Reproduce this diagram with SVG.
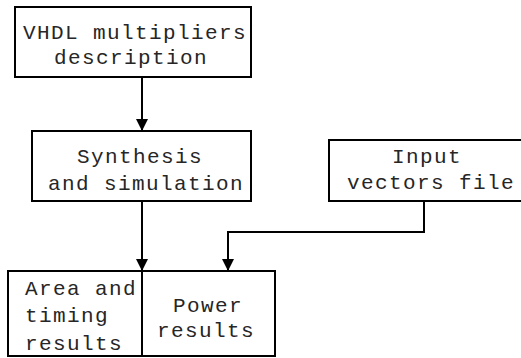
<svg xmlns="http://www.w3.org/2000/svg" width="521" height="358" viewBox="0 0 521 358">
  <style>
    .box { fill: #ffffff; stroke: #000000; stroke-width: 2; }
    .lbl { font-family: "Liberation Mono", "Courier New", monospace; font-size: 21px; letter-spacing: 1.4px; fill: #262626; }
    .wire { fill: none; stroke: #000000; stroke-width: 2; }
  </style>
  <defs>
    <marker id="arrow" markerUnits="userSpaceOnUse" markerWidth="12" markerHeight="12" refX="12" refY="6" orient="auto">
      <path d="M0,0 L12,6 L0,12 Z" fill="#000000"/>
    </marker>
  </defs>

  <g id="vhdl">
    <rect class="box" x="15" y="7" width="236" height="70"/>
    <text class="lbl" x="23" y="39">VHDL multipliers</text>
    <text class="lbl" x="54" y="64">description</text>
  </g>

  <g id="synthesis">
    <rect class="box" x="32" y="131" width="219" height="70"/>
    <text class="lbl" x="77" y="163">Synthesis</text>
    <text class="lbl" x="48" y="190">and simulation</text>
  </g>

  <g id="input">
    <rect class="box" x="329" y="140" width="200" height="61"/>
    <text class="lbl" x="392" y="163">Input</text>
    <text class="lbl" x="347" y="189">vectors file</text>
  </g>

  <g id="area-timing">
    <rect class="box" x="8" y="271" width="134" height="85"/>
    <text class="lbl" x="25" y="295">Area and</text>
    <text class="lbl" x="25" y="322">timing</text>
    <text class="lbl" x="25" y="350">results</text>
  </g>

  <g id="power">
    <rect class="box" x="142" y="271" width="133" height="85"/>
    <text class="lbl" x="173" y="312">Power</text>
    <text class="lbl" x="157" y="337">results</text>
  </g>

  <g id="connectors">
    <line class="wire" x1="142" y1="77" x2="142" y2="131" marker-end="url(#arrow)"/>
    <line class="wire" x1="142" y1="201" x2="142" y2="271" marker-end="url(#arrow)"/>
    <polyline class="wire" points="424,201 424,232 228,232 228,271" marker-end="url(#arrow)"/>
  </g>
</svg>
